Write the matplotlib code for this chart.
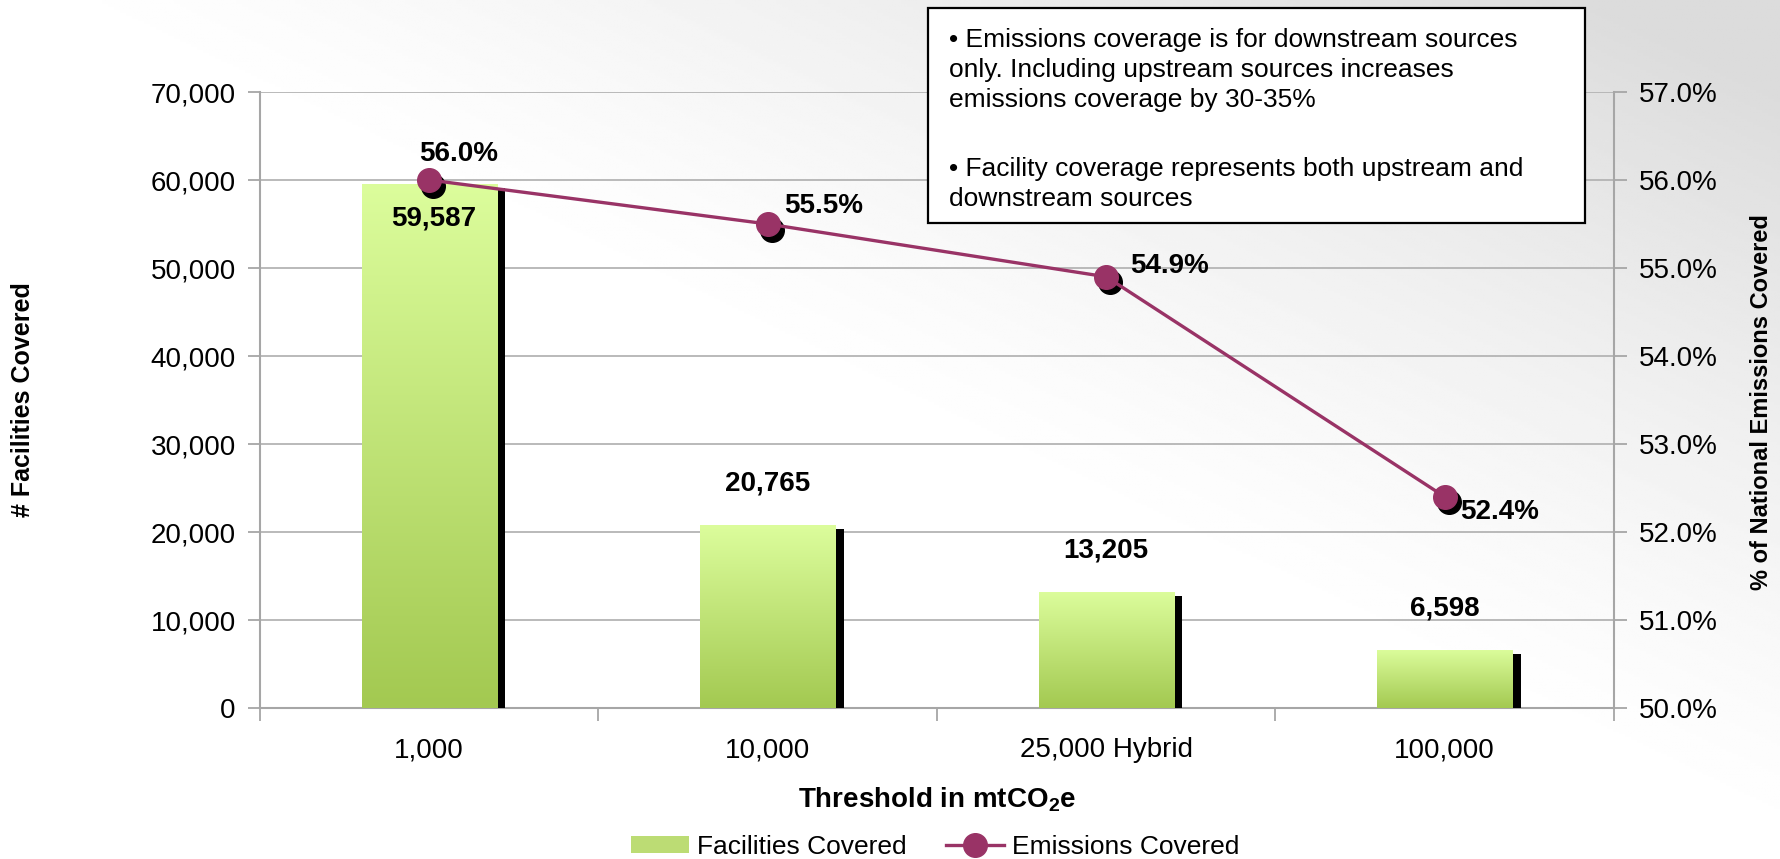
import numpy as np
import matplotlib
matplotlib.use("Agg")
import matplotlib.pyplot as plt
import matplotlib.patheffects as pe
from matplotlib.colors import LinearSegmentedColormap
from matplotlib.patches import Rectangle, Patch
from matplotlib.lines import Line2D
from matplotlib.transforms import offset_copy
from matplotlib.ticker import MultipleLocator, FuncFormatter, FixedLocator

# === Data ===
thresholds = ['1,000', '10,000', '25,000 Hybrid', '100,000']
facilities = [59587, 20765, 13205, 6598]
emissions_pct = [56.0, 55.5, 54.9, 52.4]
note_paragraphs = [
    "\u2022 Emissions coverage is for downstream sources\n"
    "only. Including upstream sources increases\n"
    "emissions coverage by 30-35%",
    "\u2022 Facility coverage represents both upstream and\n"
    "downstream sources",
]

# === Styles ===
plt.rcParams['font.family'] = ['Liberation Sans', 'DejaVu Sans']
LINE_COLOR = '#993366'
GRID = '#b4b4b4'
SPINE = '#a6a6a6'

W, H = 1781, 859
fig = plt.figure(figsize=(W / 100, H / 100), dpi=100)

# background: soft gray toward the top right
bg = fig.add_axes([0, 0, 1, 1], zorder=-10)
yy, xx = np.mgrid[0:1:300j, 0:1:600j]
shade = np.clip((xx + yy - 1.0) / 0.9, 0, 1) ** 1.3
bg.imshow(1 - 0.14 * shade, cmap='gray', vmin=0, vmax=1, origin='lower',
          extent=[0, 1, 0, 1], aspect='auto')
bg.set_axis_off()

# === Axes ===
ax = fig.add_axes([260 / W, 1 - 708 / H, 1354 / W, 616 / H], zorder=0)
ax.set_facecolor('none')
ax2 = ax.twinx()
ax2.set_zorder(1)

x = np.arange(len(thresholds))
bar_w = 0.4
bars = ax.bar(x, facilities, width=bar_w, color='#bcdc74', zorder=3)
green = LinearSegmentedColormap.from_list('grn', ['#a3c951', '#dcfd9c'])
grad = np.linspace(0, 1, 256).reshape(-1, 1)
for xi, v, b in zip(x, facilities, bars):
    b.set_path_effects([pe.SimplePatchShadow(offset=(5.8, -3), shadow_rgbFace='black', alpha=1.0),
                        pe.Normal()])
    im = ax.imshow(grad, cmap=green, origin='lower', aspect='auto', zorder=3.5,
                   extent=[xi - bar_w / 2, xi + bar_w / 2, 0, v])
    im.set_clip_path(b)

ax.set_xlim(-0.5, 3.5)
ax.set_ylim(0, 70000)
ax.yaxis.set_major_locator(MultipleLocator(10000))
ax.yaxis.set_major_formatter(FuncFormatter(lambda v, p: f'{v:,.0f}'))
ax.grid(axis='y', color=GRID, lw=1.3, zorder=0)
ax.set_axisbelow(True)

ax.set_xticks(x)
ax.set_xticklabels(thresholds)
ax.xaxis.set_minor_locator(FixedLocator(np.arange(-0.5, 4, 1.0)))
ax.tick_params(axis='x', which='major', length=0, pad=21, labelsize=20)
ax.tick_params(axis='x', which='minor', length=9, width=1.3, color=SPINE, direction='out')
ax.tick_params(axis='y', length=9, width=1.3, color=SPINE, direction='out', pad=8.5, labelsize=20)

for s in ['top', 'right']:
    ax.spines[s].set_visible(False)
for s in ['left', 'bottom']:
    ax.spines[s].set_color(SPINE)
    ax.spines[s].set_linewidth(1.5)
for s in ['top', 'left', 'bottom']:
    ax2.spines[s].set_visible(False)
ax2.spines['right'].set_color(SPINE)
ax2.spines['right'].set_linewidth(1.5)

# bar value labels
for i, (xi, v) in enumerate(zip(x, facilities)):
    if i == 0:
        ax.annotate(f'{v:,}', (xi, v), xytext=(3, -16), textcoords='offset points',
                    ha='center', va='top', fontsize=20, fontweight='bold', zorder=6)
    else:
        ax.annotate(f'{v:,}', (xi, v), xytext=(0, 30), textcoords='offset points',
                    ha='center', va='center', fontsize=20, fontweight='bold', zorder=6)

# === Emissions line ===
ax2.set_ylim(50, 57)
ax2.yaxis.set_major_locator(MultipleLocator(1))
ax2.yaxis.set_major_formatter(FuncFormatter(lambda v, p: f'{v:.1f}%'))
ax2.tick_params(axis='y', length=9, width=1.3, color=SPINE, direction='out', pad=9, labelsize=20)

shadow_tr = offset_copy(ax2.transData, fig=fig, x=3, y=-4, units='points')
ax2.plot(x, emissions_pct, 'o', ms=17, color='black', transform=shadow_tr, zorder=4)
ax2.plot(x, emissions_pct, color=LINE_COLOR, lw=2.4, marker='o', ms=17, zorder=5)

pct_offsets = [(21, 19), (12, 13), (17, 8), (11, -11)]
pct_ha = ['center', 'left', 'left', 'left']
for xi, v, off, ha in zip(x, emissions_pct, pct_offsets, pct_ha):
    ax2.annotate(f'{v:.1f}%', (xi, v), xytext=off, textcoords='offset points',
                 ha=ha, va='center', fontsize=20, fontweight='bold', zorder=6)

# === Axis titles ===
fig.text(23 / W, 1 - 400 / H, '# Facilities Covered', rotation=90, ha='center', va='center',
         fontsize=18, fontweight='bold')
fig.text(1762 / W, 1 - 402 / H, '% of National Emissions Covered', rotation=90, ha='center',
         va='center', fontsize=17, fontweight='bold')
fig.text(937 / W, 1 - 800 / H, 'Threshold in mtCO$_\\mathregular{2}$e', ha='center', va='center',
         fontsize=20, fontweight='bold')

# === Legend ===
handles = [Patch(facecolor='#bcdc74', edgecolor='none'),
           Line2D([], [], color=LINE_COLOR, lw=2.4, marker='o', ms=17)]
fig.legend(handles, ['Facilities Covered', 'Emissions Covered'], loc='center',
           bbox_to_anchor=(935 / W, 1 - 847 / H), ncol=2, frameon=False,
           prop={'size': 19}, handlelength=2.2, handleheight=0.6,
           handletextpad=0.3, columnspacing=1.5)

# === Note box ===
fig.patches.append(Rectangle((928 / W, 1 - 223 / H), (1585 - 928) / W, 215 / H,
                             transform=fig.transFigure, facecolor='white', edgecolor='black',
                             lw=1.6, zorder=10))
for para, top_px in zip(note_paragraphs, [28, 157]):
    fig.text(949 / W, 1 - top_px / H, para, ha='left', va='top', fontsize=19,
             linespacing=1.31, zorder=11)

fig.savefig('out.png', dpi=100)
